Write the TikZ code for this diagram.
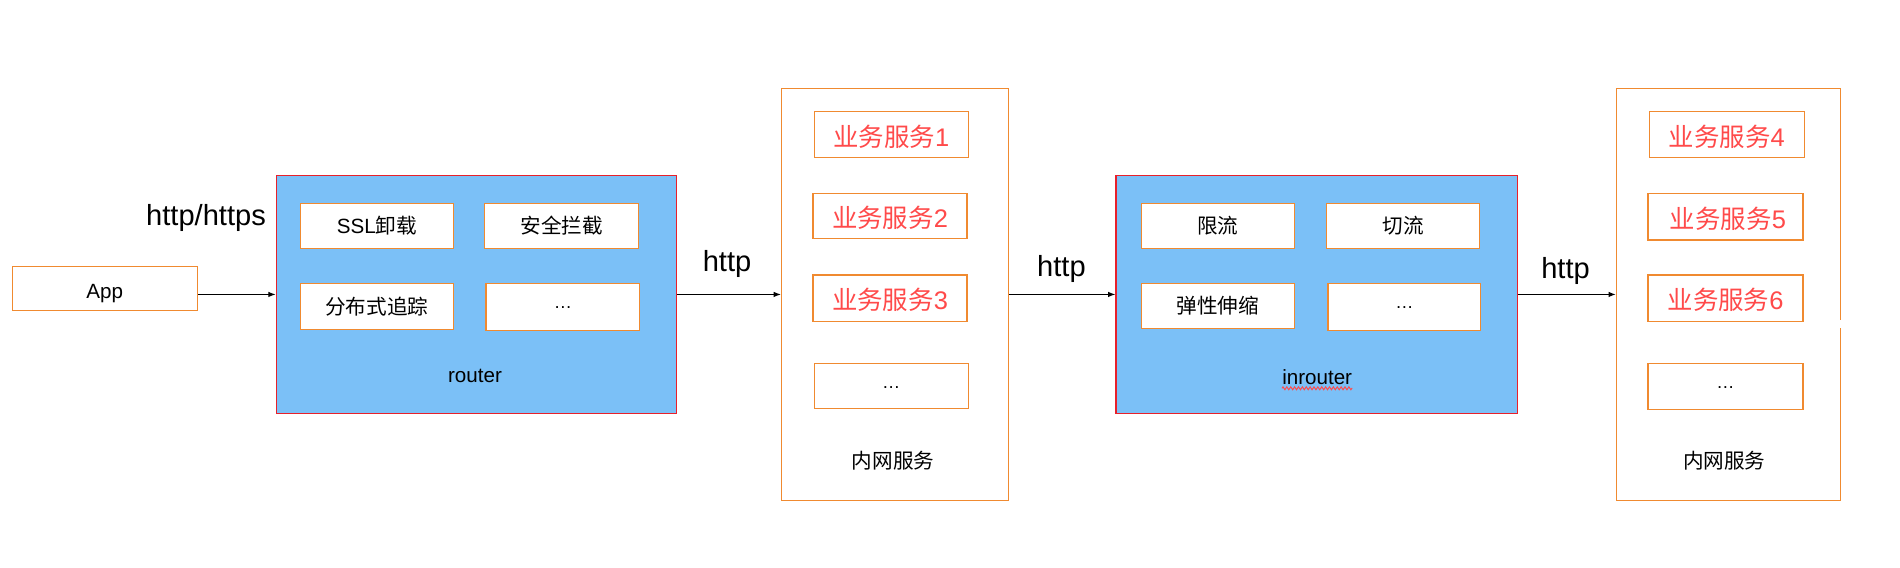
\documentclass[tikz,border=0pt]{standalone}
\usepackage{fontspec}
\setmainfont{Liberation Sans}
\newfontfamily\cjk{Noto Sans CJK SC}
\usetikzlibrary{arrows.meta,decorations.pathmorphing}
\definecolor{rblue}{HTML}{7BC0F7}
\definecolor{rred}{HTML}{E8202A}
\definecolor{borange}{HTML}{F08A30}
\definecolor{tred}{HTML}{FF4A4A}
\newcommand{\shifted}[2]{\raisebox{#1}[0pt][0pt]{#2}}
\tikzset{
  x=1pt,y=-1pt,
  routerbox/.style={draw=rred,line width=1pt,fill=rblue,minimum width=330pt,minimum height=196pt,inner sep=0pt},
  innerbox/.style={draw=borange,line width=1pt,fill=white,minimum width=126pt,minimum height=37pt,inner sep=0pt,
     font=\fontsize{17}{20}\selectfont},
  svcbox/.style={draw=borange,line width=1pt,fill=white,minimum width=186pt,minimum height=340pt,inner sep=0pt},
  redbox/.style={draw=borange,line width=1pt,fill=white,minimum width=127pt,minimum height=37pt,inner sep=0pt,
     text=tred,font=\fontsize{21}{24}\selectfont},
  dotbox/.style={draw=borange,line width=1pt,fill=white,minimum width=127pt,minimum height=37pt,inner sep=0pt,
     font=\fontsize{15}{18}\selectfont},
  smalllabel/.style={inner sep=0pt,font=\fontsize{17}{20}\selectfont},
  httplabel/.style={inner sep=0pt,font=\fontsize{24}{28}\selectfont},
  conn/.style={draw=black,line width=0.9pt,-{Latex[length=6pt,width=4.5pt]}},
}
\begin{document}
\begin{tikzpicture}
\useasboundingbox (0,0) rectangle (1568,468);
% App
\node[innerbox,minimum width=153pt,minimum height=36pt] (app) at (86.5,238) {\shifted{-8pt}{App}};
\node[httplabel] (lhttps) at (170,180) {http/https};
% router
\node[routerbox] (router) at (393,243) {};
\node[innerbox] (ssl) at (311,186.5) {SSL{\cjk 卸载}};
\node[innerbox,minimum width=127pt] (sec) at (463.5,186.5) {{\cjk 安全拦截}};
\node[innerbox,minimum height=38pt] (trace) at (311,253) {{\cjk 分布式追踪}};
\node[innerbox,minimum width=127pt,minimum height=39pt] (rdots) at (464.5,253.5) {\shifted{-1.5pt}{\fontsize{15}{18}\selectfont …}};
\node[smalllabel] (rlabel) at (392,310) {router};
% services 1
\node[svcbox,minimum width=187pt] (svc1) at (738.5,243) {};
\node[redbox,minimum height=38pt] (b1) at (735.5,111) {\shifted{-9.5pt}{{\cjk 业务服务}1}};
\node[redbox] (b2) at (734.5,178.5) {\shifted{-9.5pt}{{\cjk 业务服务}2}};
\node[redbox,minimum height=38pt] (b3) at (734.5,246) {\shifted{-9.5pt}{{\cjk 业务服务}3}};
\node[dotbox] (b1d) at (735.5,318.5) {\shifted{-2pt}{…}};
\node[smalllabel] (s1label) at (737,380) {{\cjk 内网服务}};
\node[httplabel] (lhttp1) at (600,218) {http};
% inrouter
\node[routerbox,minimum width=331pt] (inrouter) at (1086.5,243) {};
\node[innerbox] (xl) at (1005,186.5) {{\cjk 限流}};
\node[innerbox] (ql) at (1158,186.5) {{\cjk 切流}};
\node[innerbox] (ts) at (1005,252.5) {{\cjk 弹性伸缩}};
\node[innerbox,minimum height=39pt] (idots) at (1159,253.5) {\shifted{-1.5pt}{\fontsize{15}{18}\selectfont …}};
\node[smalllabel] (ilabel) at (1087,311) {inrouter};
\draw[tred,line width=0.8pt,decorate,decoration={zigzag,segment length=3.2pt,amplitude=1.2pt}]
  ([yshift=-3pt]ilabel.south west) -- ([yshift=-3pt]ilabel.south east);
\node[httplabel] (lhttp2) at (876,222) {http};
% services 2
\node[svcbox,minimum width=185pt] (svc2) at (1426.5,243) {};
\node[redbox,minimum width=128pt,minimum height=38pt] (b4) at (1425,111) {\shifted{-9.5pt}{{\cjk 业务服务}4}};
\node[redbox,minimum width=128pt,minimum height=38pt] (b5) at (1424,179) {\shifted{-9.5pt}{\hspace{4pt}{\cjk 业务服务}5}};
\node[redbox,minimum width=128pt,minimum height=38pt] (b6) at (1424,246) {\shifted{-9.5pt}{{\cjk 业务服务}6}};
\node[dotbox,minimum width=128pt,minimum height=38pt] (b2d) at (1424,319) {\shifted{-2pt}{…}};
\node[smalllabel] (s2label) at (1423,380) {{\cjk 内网服务}};
\node[httplabel] (lhttp3) at (1292,224) {http};
\coordinate (gapa) at (1519,264);
\coordinate (gapb) at (1519,271);
\draw[white,line width=2pt] (gapa) -- (gapb);
% connectors
\draw[conn] (app.east |- router.west) -- (router.west);
\draw[conn] (router.east) -- (svc1.west);
\draw[conn] (svc1.east) -- (inrouter.west);
\draw[conn] (inrouter.east) -- (svc2.west);
\end{tikzpicture}
\end{document}
